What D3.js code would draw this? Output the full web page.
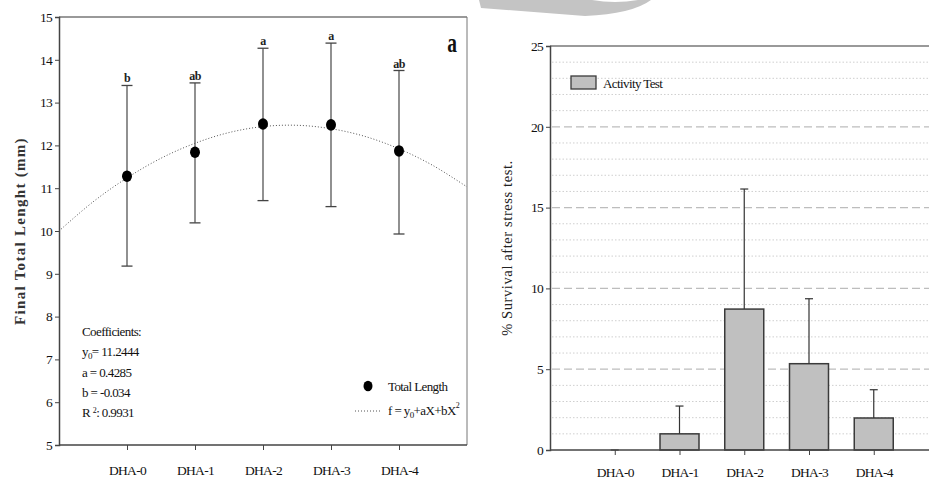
<!DOCTYPE html>
<html><head><meta charset="utf-8">
<script src="https://cdn.jsdelivr.net/npm/d3@7"></script>
<style>
html,body{margin:0;padding:0;background:#fff;}
svg{display:block;}
text{font-family:"Liberation Serif","Times New Roman",serif;}
</style></head>
<body>
<svg id="c" width="929" height="479"></svg>
<script>
// ---------- DATA ----------
const categories = ["DHA-0","DHA-1","DHA-2","DHA-3","DHA-4"];
// Left panel: final total length (mm)
const lengthMean = [11.28, 11.84, 12.50, 12.48, 11.87];
const lengthUpper = [13.40, 13.46, 14.27, 14.39, 13.75];
const lengthLower = [9.18, 10.19, 10.71, 10.57, 9.93];
const lengthLetters = ["b","ab","a","a","ab"];
// Fitted curve at half-category steps (x position, value)
const curveX = [-1, -0.5, 0, 0.5, 1, 1.5, 2, 2.5, 3, 3.5, 4, 4.5, 5];
const curveY = [10.0, 10.68, 11.24, 11.70, 12.05, 12.30, 12.44, 12.47, 12.39, 12.21, 11.92, 11.53, 11.03];
const lengthTicks = [5,6,7,8,9,10,11,12,13,14,15];
const coefLines = ["Coefficients:", "y0= 11.2444", "a = 0.4285", "b = -0.034", "R\u00b2: 0.9931"];
// Right panel: % survival after stress test
const survival = [0, 1.0, 8.72, 5.34, 1.98];
const survivalErr = [0, 2.72, 16.15, 9.36, 3.73];
const survivalTicks = [0,5,10,15,20,25];
const survivalMinor = [1,2,3,4,6,7,8,9,11,12,13,14,16,17,18,19,21,22,23,24];

const svg = d3.select("#c");

// watermark swoosh
svg.append("path").attr("d","M479,0 L481,8 L585,16 Q632,14 651,0 Z").attr("fill","#c4c4c4");
svg.append("path").attr("d","M592,0 Q615,4 638,0 Z").attr("fill","#fff");

// ================= LEFT PANEL =================
const L = {left:59, right:467, top:17, bottom:445};
const xL = d3.scaleLinear().domain([-1,5]).range([L.left, L.right]);
const yL = d3.scaleLinear().domain([5,15]).range([L.bottom, L.top]);
const gL = svg.append("g");

// frame top/right
gL.append("line").attr("x1",L.left).attr("x2",L.right).attr("y1",L.top).attr("y2",L.top).attr("stroke","#777").attr("stroke-width",1.5);
gL.append("line").attr("x1",L.right).attr("x2",L.right).attr("y1",L.top).attr("y2",L.bottom).attr("stroke","#777").attr("stroke-width",1);

// y axis
const axL = gL.append("g").attr("transform",`translate(${L.left},0)`)
  .call(d3.axisLeft(yL).tickValues(lengthTicks).tickSize(4).tickPadding(3).tickFormat(d3.format("d")));
// x axis
const axLB = gL.append("g").attr("transform",`translate(0,${L.bottom})`)
  .call(d3.axisBottom(xL).tickValues(d3.range(categories.length)).tickSize(5).tickPadding(15).tickFormat(i=>categories[i]));
[axL, axLB].forEach(a=>{
  a.select(".domain").attr("stroke","#444").attr("stroke-width",1.5);
  a.selectAll(".tick line").attr("stroke","#444");
  a.selectAll("text").attr("font-family","Liberation Serif").attr("font-size",13.5).attr("fill","#111").style("letter-spacing","-0.7px");
});
axLB.select(".domain").attr("d",`M${L.left},0H${L.right}`);

// fitted curve
const curvePts = curveX.map((x,i)=>[x,curveY[i]]);
gL.append("path").datum(curvePts)
  .attr("d", d3.line().x(d=>xL(d[0])).y(d=>yL(d[1])).curve(d3.curveCatmullRom))
  .attr("fill","none").attr("stroke","#555").attr("stroke-width",1).attr("stroke-dasharray","1,2");

// error bars
const eb = gL.selectAll(".eb").data(categories).enter().append("g");
eb.append("line").attr("x1",(d,i)=>xL(i)).attr("x2",(d,i)=>xL(i))
  .attr("y1",(d,i)=>yL(lengthUpper[i])).attr("y2",(d,i)=>yL(lengthLower[i])).attr("stroke","#555").attr("stroke-width",1.3);
eb.append("line").attr("x1",(d,i)=>xL(i)-5.5).attr("x2",(d,i)=>xL(i)+5.5)
  .attr("y1",(d,i)=>yL(lengthUpper[i])).attr("y2",(d,i)=>yL(lengthUpper[i])).attr("stroke","#444").attr("stroke-width",1.3);
eb.append("line").attr("x1",(d,i)=>xL(i)-5.5).attr("x2",(d,i)=>xL(i)+5.5)
  .attr("y1",(d,i)=>yL(lengthLower[i])).attr("y2",(d,i)=>yL(lengthLower[i])).attr("stroke","#444").attr("stroke-width",1.3);
eb.append("text").attr("x",(d,i)=>xL(i)).attr("y",(d,i)=>yL(lengthUpper[i])-3)
  .attr("text-anchor","middle").attr("font-size",12).attr("font-weight","bold").attr("fill","#222")
  .style("letter-spacing","-0.5px").text((d,i)=>lengthLetters[i]);
// points
gL.selectAll(".pt").data(lengthMean).enter().append("ellipse")
  .attr("cx",(d,i)=>xL(i)).attr("cy",d=>yL(d)).attr("rx",5).attr("ry",5.8).attr("fill","#000");

// panel label
gL.append("text").attr("transform","translate(452,52) scale(0.72,1)").attr("text-anchor","middle")
  .attr("font-size",27).attr("font-weight","bold").attr("fill","#111").text("a");

// y title
gL.append("text").attr("transform",`translate(25,${(L.top+L.bottom)/2}) rotate(-90)`).attr("text-anchor","middle")
  .attr("font-size",15).attr("font-weight","bold").attr("fill","#333").style("letter-spacing","1.3px")
  .text("Final Total Lenght (mm)");

// coefficients
const coefY = [336, 356, 377, 397, 417];
const coef = gL.append("g").attr("font-size",13).attr("fill","#111").style("letter-spacing","-0.6px");
coefLines.forEach((t,i)=>{
  const tx = coef.append("text").attr("x",82).attr("y",coefY[i]);
  if(t.startsWith("y0")){
    tx.append("tspan").text("y");
    tx.append("tspan").attr("font-size",9).attr("dy",3).text("0");
    tx.append("tspan").attr("dy",-3).text(t.slice(2));
  } else if(t.startsWith("R")){
    tx.append("tspan").text("R ");
    tx.append("tspan").attr("font-size",8).attr("dy",-4).text("2");
    tx.append("tspan").attr("dy",4).text(": 0.9931");
  } else tx.text(t);
});

// legend (left)
gL.append("ellipse").attr("cx",368).attr("cy",386).attr("rx",4.5).attr("ry",5.3).attr("fill","#000");
gL.append("text").attr("x",388).attr("y",391).attr("font-size",13).attr("fill","#111").style("letter-spacing","-0.6px").text("Total Length");
gL.append("line").attr("x1",355).attr("x2",380).attr("y1",411).attr("y2",411).attr("stroke","#555").attr("stroke-dasharray","1,2");
const fl = gL.append("text").attr("x",388).attr("y",415).attr("font-size",13).attr("fill","#111").style("letter-spacing","-0.6px");
fl.append("tspan").text("f = y");
fl.append("tspan").attr("font-size",9).attr("dy",3).text("0");
fl.append("tspan").attr("dy",-3).text("+aX+bX");
fl.append("tspan").attr("font-size",8).attr("dy",-7).text("2");

// ================= RIGHT PANEL =================
const R = {left:550, right:938.5, top:46, bottom:450};
const xR = d3.scaleLinear().domain([-1,5]).range([R.left, R.right]);
const yR = d3.scaleLinear().domain([0,25]).range([R.bottom, R.top]);
const gR = svg.append("g");

// grid
gR.selectAll(".mg").data(survivalMinor).enter().append("line")
  .attr("x1",R.left+2).attr("x2",929).attr("y1",d=>yR(d)).attr("y2",d=>yR(d))
  .attr("stroke","#cfcfcf").attr("stroke-width",1).attr("stroke-dasharray","1.5,2");
gR.selectAll(".Mg").data(survivalTicks.filter(d=>d>0 && d<25)).enter().append("line")
  .attr("x1",R.left+2).attr("x2",929).attr("y1",d=>yR(d)).attr("y2",d=>yR(d))
  .attr("stroke","#bdbdbd").attr("stroke-width",1.2).attr("stroke-dasharray","8,4");
// top frame
gR.append("line").attr("x1",R.left).attr("x2",929).attr("y1",R.top).attr("y2",R.top).attr("stroke","#777").attr("stroke-width",1.5);

// bars
gR.selectAll(".bar").data(survival).enter().append("rect")
  .attr("x",(d,i)=>xR(i)-19.5).attr("width",39)
  .attr("y",d=>yR(d)).attr("height",d=>yR(0)-yR(d))
  .attr("fill","#c0c0c0").attr("stroke","#3a3a3a").attr("stroke-width",1.5);
// error bars (upper)
const ebR = gR.selectAll(".ebr").data(survivalErr).enter().append("g");
ebR.append("line").attr("x1",(d,i)=>xR(i)).attr("x2",(d,i)=>xR(i))
  .attr("y1",(d,i)=>yR(survival[i])).attr("y2",d=>yR(d)).attr("stroke","#333").attr("stroke-width",1.2);
ebR.append("line").attr("x1",(d,i)=>xR(i)-4).attr("x2",(d,i)=>xR(i)+4)
  .attr("y1",d=>yR(d)).attr("y2",d=>yR(d)).attr("stroke","#333").attr("stroke-width",1.2);

// axes
const axR = gR.append("g").attr("transform",`translate(${R.left},0)`)
  .call(d3.axisLeft(yR).tickValues(survivalTicks).tickSize(4).tickPadding(3).tickFormat(d3.format("d")));
const axRB = gR.append("g").attr("transform",`translate(0,${R.bottom})`)
  .call(d3.axisBottom(xR).tickValues(d3.range(categories.length)).tickSize(5).tickPadding(12).tickFormat(i=>categories[i]));
[axR, axRB].forEach(a=>{
  a.select(".domain").attr("stroke","#444").attr("stroke-width",1.5);
  a.selectAll(".tick line").attr("stroke","#444");
  a.selectAll("text").attr("font-family","Liberation Serif").attr("font-size",13.5).attr("fill","#111").style("letter-spacing","-0.7px");
});
axRB.select(".domain").attr("d",`M${R.left},0H929`);

// y title
gR.append("text").attr("transform",`translate(512,${(R.top+R.bottom)/2}) rotate(-90)`).attr("text-anchor","middle")
  .attr("font-family","Liberation Sans").attr("font-size",14.5).attr("fill","#222").style("letter-spacing","0.6px")
  .text("% Survival after stress test.");

// legend
gR.append("rect").attr("x",571).attr("y",76).attr("width",25).attr("height",13)
  .attr("fill","#c0c0c0").attr("stroke","#3a3a3a").attr("stroke-width",1.3);
gR.append("text").attr("x",603).attr("y",88).attr("font-size",13).attr("fill","#111").style("letter-spacing","-0.6px").text("Activity Test");
</script>
</body></html>
